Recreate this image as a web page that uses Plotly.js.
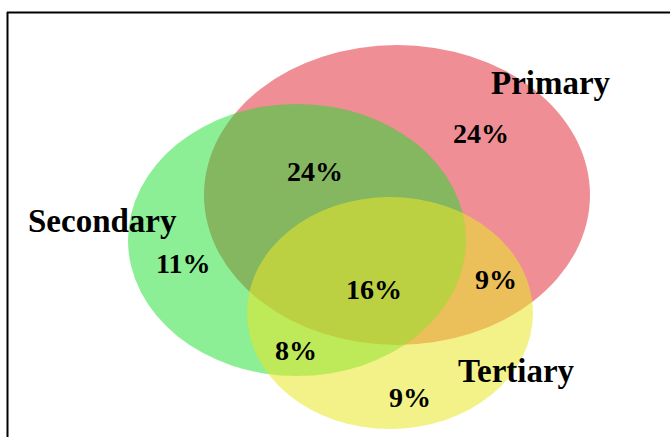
<!DOCTYPE html>
<html>
<head>
<meta charset="utf-8">
<script src="https://cdn.plot.ly/plotly-3.0.1.min.js"></script>
<style>html,body{margin:0;padding:0;background:#fff;} #chart{width:670px;height:437px;}</style>
</head>
<body>
<div id="chart"></div>
<script>
// Set names and region percentages
const setNames = ["Primary", "Secondary", "Tertiary"];
const setColors = ["rgb(226,30,44)", "rgb(26,222,44)", "rgb(232,232,40)"];
const setOpacity = [0.5, 0.5, 0.55];
const regionNames = ["Primary only", "Primary ∩ Secondary", "Secondary only", "All three", "Primary ∩ Tertiary", "Secondary ∩ Tertiary", "Tertiary only"];
const regionValues = [24, 24, 11, 16, 9, 8, 9];

// geometry (pixel space of the drawing)
const ellipses = [
  {cx: 397, cy: 195, rx: 193, ry: 150},
  {cx: 297, cy: 240, rx: 169, ry: 136},
  {cx: 390, cy: 313, rx: 143, ry: 116}
];
const setLabelPos = [[551, 83], [102, 221], [516, 371]];
const regionLabelPos = [[481, 133], [315, 171], [183, 263], [374, 289], [496, 279], [296, 350], [410, 397]];

const shapes = ellipses.map((e, i) => ({
  type: "circle", xref: "x", yref: "y",
  x0: e.cx - e.rx, x1: e.cx + e.rx, y0: e.cy - e.ry, y1: e.cy + e.ry,
  fillcolor: setColors[i], opacity: setOpacity[i], line: {width: 0}, layer: "below"
}));
// frame lines
shapes.push({type: "line", xref: "x", yref: "y", x0: 7, x1: 670, y0: 12.5, y1: 12.5, line: {color: "#000", width: 2}});
shapes.push({type: "line", xref: "x", yref: "y", x0: 7.5, x1: 7.5, y0: 12, y1: 437, line: {color: "#000", width: 2}});

const font = "Liberation Serif, Times New Roman, serif";
const annotations = [];
setNames.forEach((n, i) => annotations.push({
  x: setLabelPos[i][0], y: setLabelPos[i][1], xref: "x", yref: "y",
  text: "<b>" + n + "</b>", showarrow: false,
  font: {family: font, size: 33, color: "#000"}
}));
regionValues.forEach((v, i) => annotations.push({
  x: regionLabelPos[i][0], y: regionLabelPos[i][1], xref: "x", yref: "y",
  text: "<b>" + v + "%</b>", showarrow: false,
  font: {family: font, size: 28, color: "#000"}
}));

const layout = {
  width: 670, height: 437,
  margin: {l: 0, r: 0, t: 0, b: 0},
  paper_bgcolor: "#fff", plot_bgcolor: "#fff",
  xaxis: {range: [0, 670], visible: false, fixedrange: true},
  yaxis: {range: [437, 0], visible: false, fixedrange: true},
  shapes: shapes,
  annotations: annotations,
  showlegend: false
};
Plotly.newPlot("chart", [{x: [], y: [], type: "scatter", hoverinfo: "skip"}], layout, {displayModeBar: false, staticPlot: true});
</script>
</body>
</html>
